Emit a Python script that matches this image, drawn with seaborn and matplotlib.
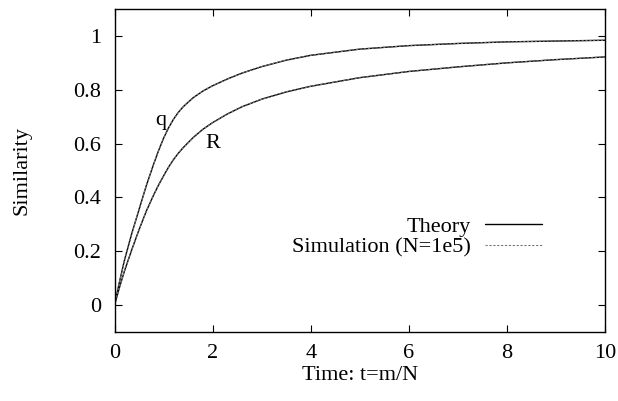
import matplotlib
matplotlib.use("Agg")
import matplotlib.pyplot as plt
import pandas as pd
import seaborn as sns

# values
t_vals = [0, 0.1, 0.2, 0.35, 0.5, 0.65, 0.8, 0.9, 1.0, 1.1, 1.2, 1.3, 1.4,
          1.6, 1.8, 2.0, 2.3, 2.6, 3.0, 3.5, 4, 5, 6, 7, 8, 9, 10]
q_theory = [0, 0.085, 0.165, 0.265, 0.355, 0.445, 0.525, 0.575, 0.62, 0.658,
            0.69, 0.716, 0.737, 0.77, 0.795, 0.815, 0.84, 0.862, 0.886, 0.91,
            0.928, 0.951, 0.964, 0.972, 0.978, 0.981, 0.984]
R_theory = [0, 0.065, 0.125, 0.205, 0.28, 0.35, 0.41, 0.447, 0.48, 0.512,
            0.54, 0.564, 0.585, 0.622, 0.653, 0.678, 0.71, 0.737, 0.765, 0.792,
            0.813, 0.845, 0.868, 0.885, 0.9, 0.912, 0.922]
q_sim = [0, 0.085, 0.165, 0.265, 0.355, 0.445, 0.525, 0.575, 0.62, 0.658,
         0.69, 0.716, 0.737, 0.77, 0.795, 0.815, 0.84, 0.862, 0.886, 0.91,
         0.928, 0.951, 0.964, 0.972, 0.978, 0.981, 0.984]
R_sim = [0, 0.065, 0.125, 0.205, 0.28, 0.35, 0.41, 0.447, 0.48, 0.512,
         0.54, 0.564, 0.585, 0.622, 0.653, 0.678, 0.71, 0.737, 0.765, 0.792,
         0.813, 0.845, 0.868, 0.885, 0.9, 0.912, 0.922]

x_ticks = [0, 2, 4, 6, 8, 10]
y_ticks = [0, 0.2, 0.4, 0.6, 0.8, 1]
y_tick_labels = ["0", "0.2", "0.4", "0.6", "0.8", "1"]

FS = 16

sns.set_theme(style="ticks")
plt.rcParams["font.family"] = ["Liberation Serif", "DejaVu Serif"]
plt.rcParams["font.size"] = FS
plt.rcParams["text.color"] = "black"
plt.rcParams["axes.labelcolor"] = "black"
plt.rcParams["xtick.color"] = "black"
plt.rcParams["ytick.color"] = "black"

df = pd.DataFrame({"t": t_vals, "q": q_theory, "R": R_theory,
                   "q_sim": q_sim, "R_sim": R_sim})

fig = plt.figure(figsize=(6.18, 4.01), dpi=100)
ax = fig.add_axes([0.1853, 0.172, 0.7937, 0.8055])

# theory curves (solid)
sns.lineplot(data=df, x="t", y="q", color="black", linewidth=1.0, ax=ax, label="Theory")
sns.lineplot(data=df, x="t", y="R", color="black", linewidth=1.0, ax=ax, legend=False)
# simulation curves (dashed, drawn on top)
sns.lineplot(data=df, x="t", y="q_sim", color="#777777", linewidth=0.8,
             linestyle=(0, (2, 1.5)), ax=ax, label="Simulation (N=1e5)")
sns.lineplot(data=df, x="t", y="R_sim", color="#777777", linewidth=0.8,
             linestyle=(0, (2, 1.5)), ax=ax, legend=False)

ax.text(0.95, 0.685, "q", ha="center", va="center", fontsize=FS)
ax.text(2.0, 0.60, "R", ha="center", va="center", fontsize=FS)

ax.set_xlim(0, 10)
ax.set_ylim(-0.1, 1.1)
ax.set_xticks(x_ticks)
ax.set_xticklabels([str(v) for v in x_ticks])
ax.set_yticks(y_ticks)
ax.set_yticklabels(y_tick_labels)
ax.tick_params(direction="in", length=5, width=0.8, top=True, right=True,
               labelsize=FS, colors="black")
ax.tick_params(axis="x", pad=8.5)
ax.tick_params(axis="y", pad=9.5)
for s in ax.spines.values():
    s.set_linewidth(1.0)
    s.set_color("black")

ax.set_xlabel("Time: t=m/N", fontsize=FS)
ax.set_ylabel("Similarity", fontsize=FS)
ax.xaxis.set_label_coords(0.5, -0.105)
ax.yaxis.set_label_coords(-0.170, 0.5)

ax.legend(loc="center right", bbox_to_anchor=(542 / 618, 1 - 237 / 401),
          bbox_transform=fig.transFigure, frameon=False, markerfirst=False,
          handlelength=2.55, handletextpad=0.67, borderpad=0, borderaxespad=0,
          labelspacing=0.0, fontsize=FS)

fig.savefig("out.png", dpi=100)
